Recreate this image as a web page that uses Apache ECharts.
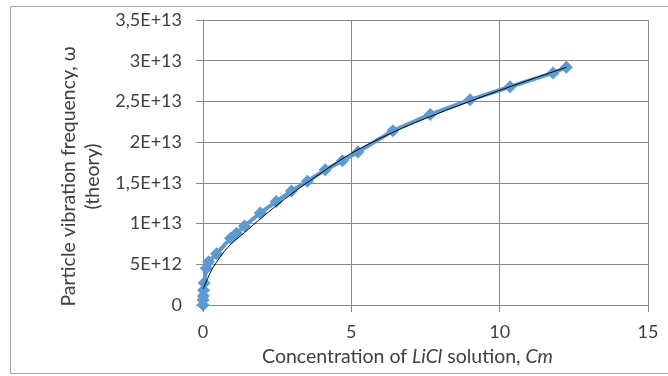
<!DOCTYPE html>
<html><head><meta charset="utf-8">
<script src="https://cdn.jsdelivr.net/npm/echarts@6/dist/echarts.min.js"></script>
<style>html,body{margin:0;padding:0;background:#fff}#c{width:668px;height:376px}</style>
</head><body><div id="c"></div>
<script>
// Measured points (concentration Cm, frequency ω)
const concentration = [0, 0, 0.01, 0.02, 0.04, 0.11, 0.19, 0.46, 0.93, 1.13, 1.40, 1.93, 2.47, 2.98, 3.52, 4.12, 4.70, 5.22, 6.40, 7.66, 9.00, 10.35, 11.80, 12.25];
const frequency = [0, 0.6e12, 1.1e12, 1.8e12, 2.7e12, 4.5e12, 5.3e12, 6.3e12, 8.2e12, 8.8e12, 9.7e12, 11.3e12, 12.7e12, 14.0e12, 15.2e12, 16.6e12, 17.7e12, 18.8e12, 21.4e12, 23.4e12, 25.2e12, 26.8e12, 28.5e12, 29.2e12];
// Trend line
const trendX = [0.01, 0.10, 0.34, 0.84, 1.40, 1.97, 2.75, 3.50, 4.94, 6.40, 7.63, 9.88, 12.25];
const trendY = [2.0e12, 2.8e12, 4.6e12, 7.1e12, 8.9e12, 10.7e12, 13.0e12, 15.0e12, 18.5e12, 21.2e12, 23.1e12, 26.2e12, 29.2e12];
const yTickLabels = {0:'0', 5e12:'5E+12', 1e13:'1E+13', 1.5e13:'1,5E+13', 2e13:'2E+13', 2.5e13:'2,5E+13', 3e13:'3E+13', 3.5e13:'3,5E+13'};

const font = 'Lato, "Open Sans", sans-serif';
const grey = '#898989';
const txt = '#404040';
const chart = echarts.init(document.getElementById('c'));
chart.setOption({
  animation: false,
  graphic: [{type:'rect', shape:{x:10.5, y:6.5, width:700, height:367}, style:{fill:'none', stroke:'#a6a6a6', lineWidth:1}, silent:true}],
  grid: {left: 203, right: 20, top: 20, bottom: 71},
  xAxis: {
    type: 'value', min: 0, max: 15, interval: 5,
    axisLine: {show: true, onZero: false, lineStyle: {color: grey}},
    axisTick: {show: true, length: 7, lineStyle: {color: grey}},
    splitLine: {show: true, lineStyle: {color: grey}},
    axisLabel: {color: txt, fontSize: 18, fontFamily: font, margin: 18},
    name: '{n|Concentration of }{i|LiCl}{n| solution, }{i|Cm}',
    nameLocation: 'middle', nameGap: 42,
    nameTextStyle: {padding: [0, 36, 0, 0], rich: {
      n: {fontSize: 19.5, fontFamily: font, color: txt},
      i: {fontSize: 19.5, fontFamily: font, color: txt, fontStyle: 'italic'}
    }}
  },
  yAxis: {
    type: 'value', min: 0, max: 3.5e13, interval: 5e12,
    axisLine: {show: true, lineStyle: {color: grey}},
    axisTick: {show: true, length: 7, lineStyle: {color: grey}},
    splitLine: {show: true, lineStyle: {color: grey}},
    axisLabel: {color: txt, fontSize: 18, fontFamily: font, margin: 21,
      formatter: v => yTickLabels[v] !== undefined ? yTickLabels[v] : String(v)},
    name: 'Particle vibration frequency, ω\n(theory)',
    nameLocation: 'middle', nameRotate: 90, nameGap: 98,
    nameTextStyle: {fontSize: 19.5, fontFamily: font, color: txt, lineHeight: 24, padding: [0, 28, 0, 0]}
  },
  series: [
    {type: 'line', data: concentration.map((x, i) => [x, frequency[i]]),
     lineStyle: {color: '#5b9bd5', width: 4}, itemStyle: {color: '#5b9bd5'},
     symbol: 'diamond', symbolSize: 13, z: 2},
    {type: 'line', data: trendX.map((x, i) => [x, trendY[i]]), smooth: 0.3,
     showSymbol: false, symbol: 'none', lineStyle: {color: '#000', width: 1}, z: 3}
  ]
});
</script></body></html>
